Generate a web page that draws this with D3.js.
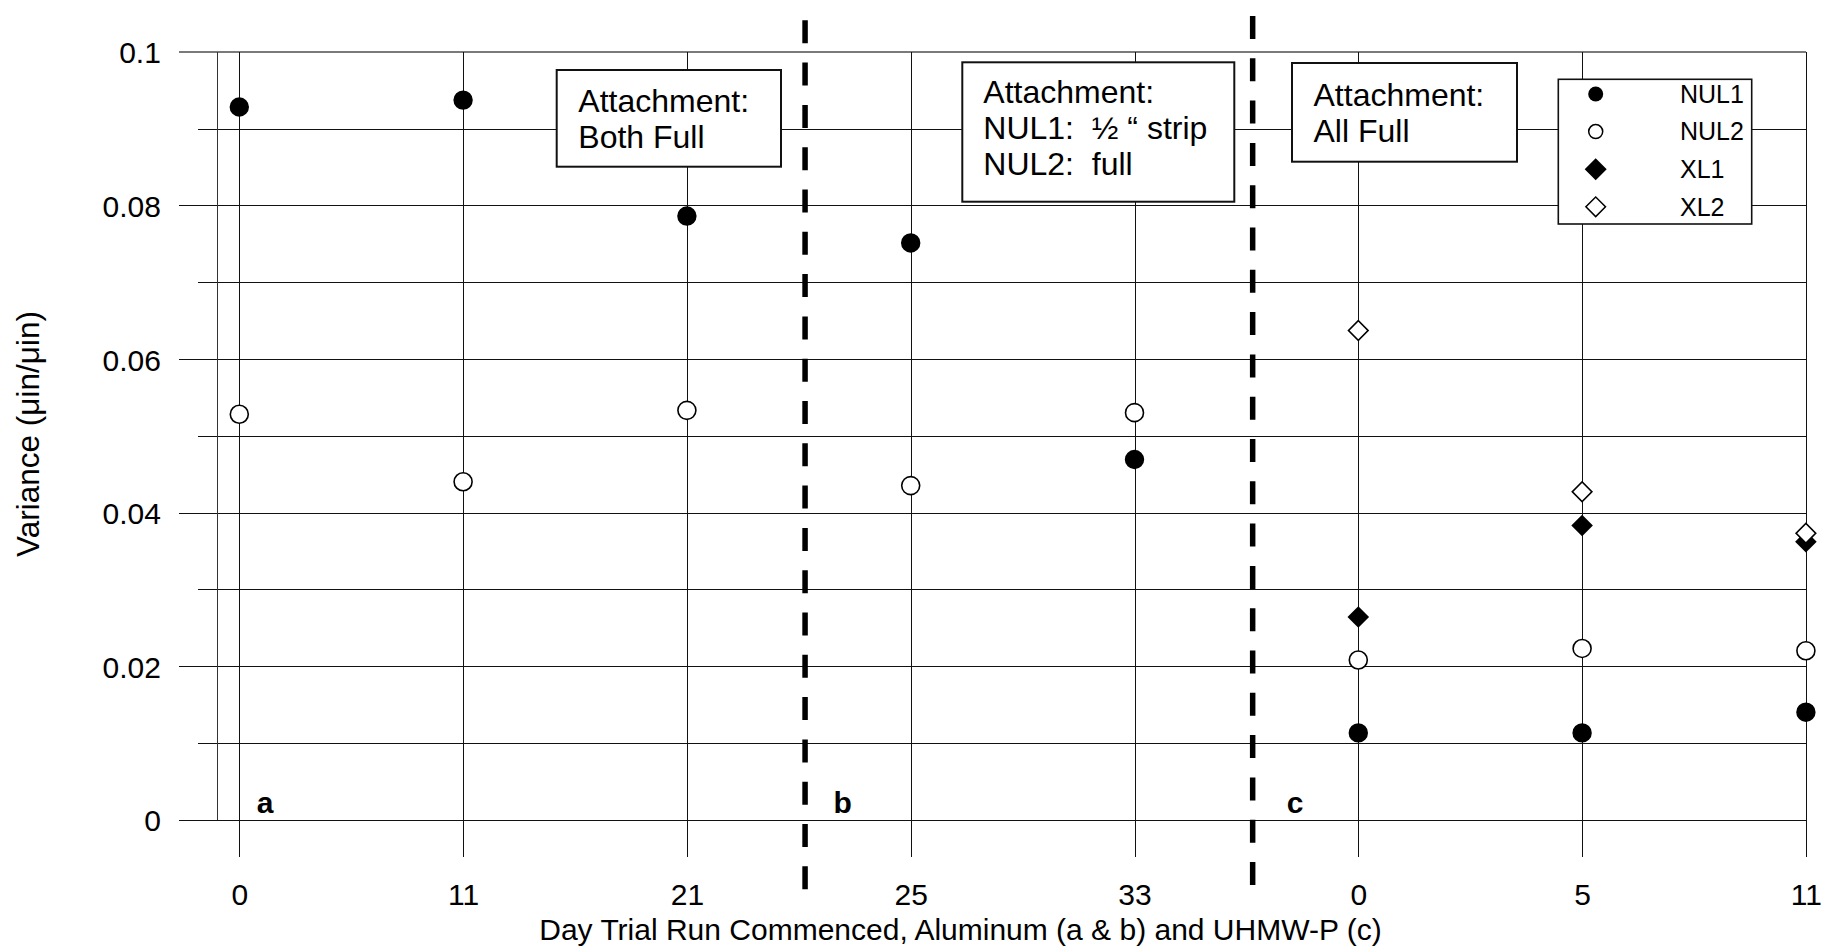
<!DOCTYPE html>
<html>
<head>
<meta charset="utf-8">
<script src="https://cdn.jsdelivr.net/npm/d3@7"></script>
<style>
  body { margin: 0; background: #fff; }
  svg { font-family: "Liberation Sans", Arial, sans-serif; }
</style>
</head>
<body>
<svg width="1839" height="950"></svg>
<script>
// data
const days = ["0", "11", "21", "25", "33", "0", "5", "11"];
const nul1 = [0.0928, 0.0937, 0.0786, 0.0751, 0.0469, 0.0113, 0.0113, 0.0140];
const nul2 = [0.0528, 0.0440, 0.0533, 0.0435, 0.0530, 0.0208, 0.0223, 0.0220];
const xl1 = [null, null, null, null, null, 0.0264, 0.0383, 0.0362];
const xl2 = [null, null, null, null, null, 0.0637, 0.0427, 0.0373];
const yMajor = [0, 0.02, 0.04, 0.06, 0.08, 0.1];
const yMinor = [0.01, 0.03, 0.05, 0.07, 0.09];
const sections = ["a", "b", "c"];
const notes = [
    ["Attachment:", "Both Full"],
    ["Attachment:", "NUL1:  \u00bd \u201c strip", "NUL2:  full"],
    ["Attachment:", "All Full"]
];
const seriesNames = ["NUL1", "NUL2", "XL1", "XL2"];

let svg = d3.select("svg");

let idx = days.map((d, i) => i);
let x = d3.scalePoint().domain(idx).range([239.3, 1805.9]);
let y = d3.scaleLinear().domain([0, 0.1]).range([819.7, 51.7]);
let step = x.step();

// minor horizontal grid
svg.append("g")
    .attr("transform", "translate(1805.9,0)")
    .call(d3.axisLeft(y).tickValues(yMinor).tickSize(1608).tickFormat(""))
    .call(g => g.select(".domain").remove())
    .call(g => g.selectAll("line").attr("stroke", "#111").attr("shape-rendering", "crispEdges"));

// major horizontal grid + labels
svg.append("g")
    .attr("transform", "translate(1805.9,0)")
    .call(d3.axisLeft(y).tickValues(yMajor).tickSize(1627).tickPadding(18)
        .tickFormat(d => d == 0 ? "0" : String(d)))
    .call(g => g.select(".domain").remove())
    .call(g => g.selectAll("line").attr("stroke", d => d == 0.1 ? "#7a7a7a" : "#111")
        .attr("stroke-width", d => d == 0.1 ? 2 : 1)
        .attr("shape-rendering", "crispEdges"))
    .call(g => g.selectAll("text").attr("font-size", 30).attr("fill", "#000")
        .attr("font-family", "Liberation Sans, Arial, sans-serif").attr("dy", "0.37em"));

// vertical category lines + labels
svg.append("g")
    .attr("transform", "translate(0," + y(0.1) + ")")
    .call(d3.axisBottom(x).tickSize(y(0) - y(0.1) + 37.3).tickPadding(27)
        .tickFormat(i => days[i]))
    .call(g => g.select(".domain").remove())
    .call(g => g.selectAll("line").attr("stroke", "#111").attr("shape-rendering", "crispEdges"))
    .call(g => g.selectAll("text").attr("font-size", 30).attr("fill", "#000")
        .attr("font-family", "Liberation Sans, Arial, sans-serif"));

// y axis line
svg.append("line")
    .attr("x1", 217).attr("x2", 217)
    .attr("y1", y(0.1)).attr("y2", y(0))
    .attr("stroke", "#333")
    .attr("shape-rendering", "crispEdges");

// section separators
let seps = [x(2) + 0.528 * step, x(4) + 0.528 * step];
let sepEnds = [[889.3, 11.7], [885, 9.4]];
seps.forEach((sx, i) => {
    svg.append("line")
        .attr("x1", sx).attr("x2", sx)
        .attr("y1", sepEnds[i][0]).attr("y2", sepEnds[i][1])
        .attr("stroke", "#000")
        .attr("stroke-width", 5.5)
        .attr("stroke-dasharray", "23 19.3");
});

// section letters
let letterX = [x(0) + 17.4, seps[0] + 28.5, seps[1] + 34];
svg.selectAll(".sec")
    .data(sections)
    .enter()
    .append("text")
    .attr("x", (d, i) => letterX[i])
    .attr("y", 813)
    .attr("font-size", 30)
    .attr("font-weight", "bold")
    .text(d => d);

// note boxes
let boxes = [
    { x: 556.7, y: 70, w: 224.3, h: 96.7, tx: 578.3, ty: 111.7 },
    { x: 962.3, y: 62.3, w: 272, h: 139.4, tx: 983.3, ty: 102.7 },
    { x: 1292, y: 63, w: 225, h: 98.7, tx: 1313.5, ty: 106 }
];
boxes.forEach((b, i) => {
    svg.append("rect")
        .attr("x", b.x).attr("y", b.y)
        .attr("width", b.w).attr("height", b.h)
        .attr("fill", "#fff")
        .attr("stroke", "#111")
        .attr("stroke-width", 2);
    svg.append("g").selectAll("text")
        .data(notes[i])
        .enter()
        .append("text")
        .attr("x", b.tx)
        .attr("y", (d, j) => b.ty + j * 36.3)
        .attr("font-size", 32)
        .style("white-space", "pre")
        .text(d => d);
});

// markers
let circle = r => d3.symbol().type(d3.symbolCircle).size(Math.PI * r * r)();
let diamond = h => d3.symbol().type(d3.symbolSquare).size(2 * h * h)();

let shapes = [
    { data: nul1, path: circle(9.7), fill: "#000", stroke: "none", rot: 0 },
    { data: nul2, path: circle(9), fill: "#fff", stroke: "#000", rot: 0 },
    { data: xl1, path: diamond(10.8), fill: "#000", stroke: "none", rot: 45 },
    { data: xl2, path: diamond(9.8), fill: "#fff", stroke: "#000", rot: 45 }
];

shapes.forEach(s => {
    svg.append("g").selectAll("path")
        .data(s.data.map((v, i) => ({ i: i, v: v })).filter(d => d.v != null))
        .enter()
        .append("path")
        .attr("d", s.path)
        .attr("transform", d => "translate(" + x(d.i) + "," + y(d.v) + ") rotate(" + s.rot + ")")
        .attr("fill", s.fill)
        .attr("stroke", s.stroke)
        .attr("stroke-width", 1.6);
});

// legend
let legend = svg.append("g");
legend.append("rect")
    .attr("x", 1558.3).attr("y", 79.3)
    .attr("width", 193.4).attr("height", 144.7)
    .attr("fill", "#fff")
    .attr("stroke", "#111")
    .attr("stroke-width", 1.6);

let legShapes = [
    { path: circle(7.5), fill: "#000", stroke: "none", rot: 0 },
    { path: circle(7), fill: "#fff", stroke: "#000", rot: 0 },
    { path: diamond(11), fill: "#000", stroke: "none", rot: 45 },
    { path: diamond(9.8), fill: "#fff", stroke: "#000", rot: 45 }
];
seriesNames.forEach((n, i) => {
    let ry = 94 + i * 37.6;
    legend.append("path")
        .attr("d", legShapes[i].path)
        .attr("transform", "translate(1595.7," + ry + ") rotate(" + legShapes[i].rot + ")")
        .attr("fill", legShapes[i].fill)
        .attr("stroke", legShapes[i].stroke)
        .attr("stroke-width", 1.5);
    legend.append("text")
        .attr("x", 1680)
        .attr("y", ry + 8.8)
        .attr("font-size", 25)
        .text(n);
});

// axis titles
svg.append("text")
    .attr("x", 960.5)
    .attr("y", 940)
    .attr("text-anchor", "middle")
    .attr("font-size", 30)
    .text("Day Trial Run Commenced, Aluminum (a & b) and UHMW-P (c)");

svg.append("text")
    .attr("transform", "translate(39,434) rotate(-90)")
    .attr("text-anchor", "middle")
    .attr("font-size", 31.5)
    .text("Variance (\u03bcin/\u03bcin)");
</script>
</body>
</html>
